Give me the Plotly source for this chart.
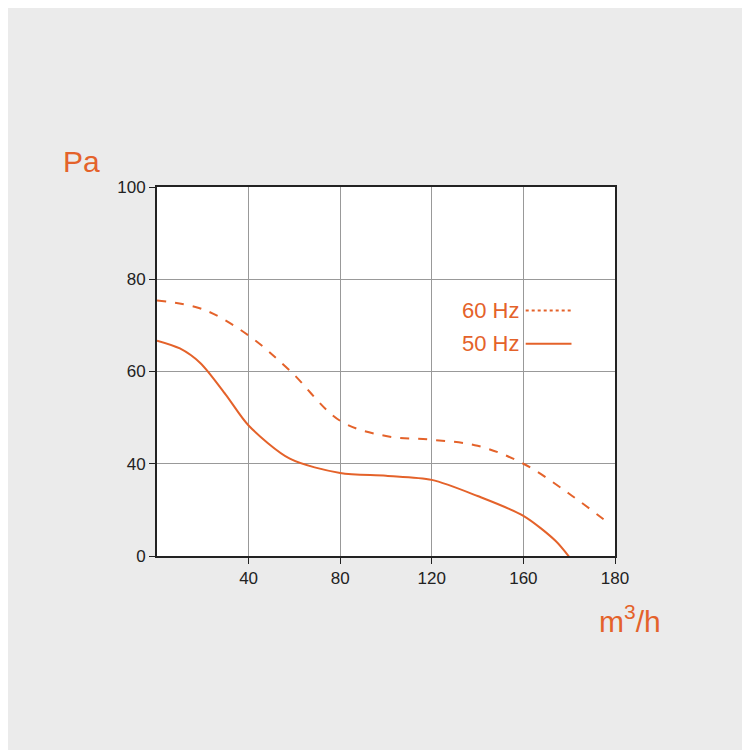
import plotly.graph_objects as go

# y axis is drawn on a position scale: the "0" label sits where 20 would be
x60 = [0, 20, 40, 58, 80, 100, 120, 140, 160, 180, 197]
y60 = [75.4, 73.5, 67.8, 60.2, 49.3, 46.0, 45.2, 43.9, 40.0, 33.5, 27.2]
x50 = [0, 10, 19, 30, 40, 58, 80, 100, 120, 140, 160, 174, 180]
y50 = [66.7, 65.0, 61.8, 55.0, 48.3, 41.1, 38.0, 37.4, 36.5, 33.0, 28.7, 23.3, 19.8]

xticks = [40, 80, 120, 160, 200]
xlabels = ["40", "80", "120", "160", "180"]
yticks = [20, 40, 60, 80, 100]
ylabels = ["0", "40", "60", "80", "100"]

ORANGE = "#e4622a"

fig = go.Figure()
fig.add_trace(go.Scatter(x=x60, y=y60, mode="lines", line=dict(color=ORANGE, width=2, dash="dash", shape="spline")))
fig.add_trace(go.Scatter(x=x50, y=y50, mode="lines", line=dict(color=ORANGE, width=2, shape="spline", smoothing=0.8)))

fig.update_layout(
    width=750, height=750, showlegend=False,
    paper_bgcolor="#ebebeb", plot_bgcolor="white",
    margin=dict(l=149, r=143, t=179, b=202),
    font=dict(family="Liberation Sans, Arial", size=17, color="#222"),
    xaxis=dict(range=[0, 200], tickvals=xticks, ticktext=xlabels, showgrid=True, gridcolor="#999",
               gridwidth=1, ticks="outside", ticklen=6, tickcolor="#222", showline=True,
               linecolor="#222", linewidth=2, mirror=True, zeroline=False),
    yaxis=dict(range=[20, 100], tickvals=yticks, ticktext=ylabels, showgrid=True, gridcolor="#999",
               gridwidth=1, ticks="outside", ticklen=6, tickcolor="#222", showline=True,
               linecolor="#222", linewidth=2, mirror=True, zeroline=False),
)

fig.add_annotation(x=-0.21, y=1.07, xref="paper", yref="paper", text="Pa", showarrow=False,
                   font=dict(size=30, color=ORANGE), xanchor="left", yanchor="middle")
fig.add_annotation(x=0.96, y=-0.17, xref="paper", yref="paper", text="m<sup>3</sup>/h", showarrow=False,
                   font=dict(size=30, color=ORANGE), xanchor="left", yanchor="middle")

# legend
for yv, label, dash in [(0.665, "60 Hz", "dot"), (0.575, "50 Hz", "solid")]:
    fig.add_annotation(x=0.795, y=yv, xref="paper", yref="paper", text=label, showarrow=False,
                       font=dict(size=22, color=ORANGE), xanchor="right", yanchor="middle")
    fig.add_shape(type="line", xref="paper", yref="paper", x0=0.805, x1=0.905, y0=yv, y1=yv,
                  line=dict(color=ORANGE, width=2, dash=dash))

fig.write_html("out.html")
